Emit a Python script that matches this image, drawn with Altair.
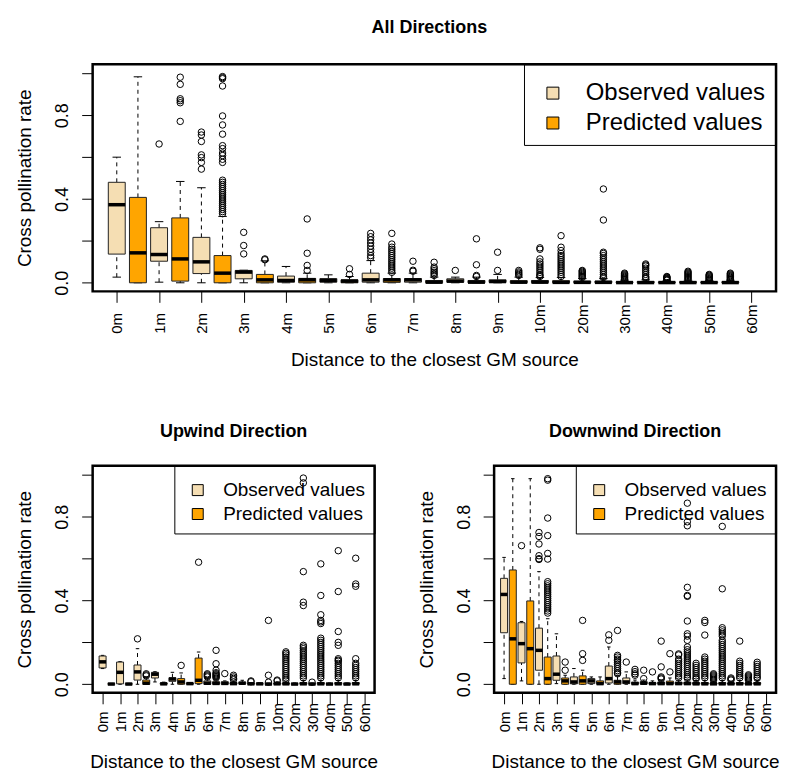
import json
import altair as alt
import pandas as pd

FONT = "Liberation Sans"

DIST_LABELS = ["0m", "1m", "2m", "3m", "4m", "5m", "6m", "7m", "8m", "9m",
               "10m", "20m", "30m", "40m", "50m", "60m"]
BOX_DIST = DIST_LABELS[:15]          # 60m has no data
SERIES = ["Observed values", "Predicted values"]
COLORS = ["#F5DEB3", "#FFA500"]
Y_TICKS = [0.0, 0.2, 0.4, 0.6, 0.8, 1.0]
Y_LABELLED = [0.0, 0.4, 0.8]

# ---- All directions: (lower whisker, Q1, median, Q3, upper whisker) ----
ALL_OBS = [
    (0.027, 0.137, 0.373, 0.480, 0.600), (0.003, 0.103, 0.135, 0.263, 0.292),
    (0.000, 0.044, 0.100, 0.217, 0.454), (0.000, 0.019, 0.051, 0.059, 0.060),
    (0.000, 0.003, 0.011, 0.032, 0.078), (0.000, 0.003, 0.011, 0.020, 0.038),
    (0.000, 0.003, 0.014, 0.046, 0.106), (0.000, 0.003, 0.014, 0.020, 0.046),
    (0.000, 0.003, 0.008, 0.019, 0.027), (0.000, 0.002, 0.006, 0.014, 0.040),
    (0.000, 0.001, 0.003, 0.011, 0.025), (0.000, 0.000, 0.002, 0.008, 0.020),
    (0.000, 0.000, 0.001, 0.005, 0.012), (0.000, 0.000, 0.001, 0.004, 0.010),
    (0.000, 0.000, 0.001, 0.004, 0.010)]
ALL_PRED = [
    (0.000, 0.000, 0.143, 0.408, 0.984), (0.000, 0.008, 0.114, 0.310, 0.484),
    (0.000, 0.000, 0.046, 0.130, 0.317), (0.000, 0.000, 0.014, 0.040, 0.105),
    (0.000, 0.000, 0.014, 0.021, 0.046), (0.000, 0.000, 0.008, 0.014, 0.030),
    (0.000, 0.002, 0.014, 0.020, 0.046), (0.000, 0.000, 0.003, 0.011, 0.027),
    (0.000, 0.000, 0.003, 0.011, 0.027), (0.000, 0.000, 0.003, 0.010, 0.027),
    (0.000, 0.000, 0.002, 0.010, 0.025), (0.000, 0.000, 0.002, 0.008, 0.020),
    (0.000, 0.000, 0.001, 0.006, 0.014), (0.000, 0.000, 0.001, 0.005, 0.012),
    (0.000, 0.000, 0.001, 0.005, 0.012)]
ALL_OBS_OUT = [
    [], [0.663], [0.72, 0.706, 0.675, 0.611, 0.598, 0.575, 0.543],
    [0.241, 0.178, 0.138], [], [],
    [0.236, 0.22, 0.205, 0.19, 0.175, 0.16, 0.145, 0.13, 0.12],
    [0.103, 0.06, 0.055], [0.059], [0.146, 0.059],
    [0.167, 0.16, 0.114, 0.1, 0.09, 0.08, 0.07, 0.06, 0.05, 0.04, 0.035, 0.03],
    [0.059, 0.055, 0.05, 0.045, 0.04, 0.035, 0.03, 0.025],
    [0.046, 0.042, 0.038, 0.034, 0.03, 0.026, 0.022, 0.018, 0.015],
    [0.03, 0.027, 0.024, 0.021, 0.018, 0.015, 0.012],
    [0.04, 0.036, 0.032, 0.028, 0.024, 0.02, 0.016, 0.013]]
ALL_PRED_OUT = [
    [], [0.982, 0.948, 0.879, 0.87, 0.86, 0.771],
    [0.985, 0.98, 0.975, 0.94, 0.797, 0.754, 0.71, 0.655, 0.641, 0.62, 0.608,
     0.59, 0.575, 0.49, 0.48, 0.47, 0.46, 0.45, 0.44, 0.43, 0.42, 0.41, 0.4,
     0.39, 0.38, 0.37, 0.36, 0.35, 0.34, 0.33],
    [0.114, 0.11], [0.305, 0.141, 0.083, 0.059], [0.067, 0.04],
    [0.236, 0.185, 0.17, 0.16, 0.15, 0.14, 0.13, 0.12, 0.11, 0.1, 0.09, 0.08,
     0.07, 0.06, 0.05],
    [0.098, 0.075, 0.067, 0.058, 0.05, 0.043, 0.035],
    [0.21, 0.086, 0.035, 0.03], [0.059, 0.052, 0.046, 0.04, 0.035],
    [0.225, 0.17, 0.154, 0.14, 0.13, 0.12, 0.11, 0.1, 0.09, 0.08, 0.07, 0.06,
     0.05, 0.04, 0.03],
    [0.448, 0.3, 0.146, 0.14, 0.13, 0.12, 0.11, 0.1, 0.09, 0.08, 0.07, 0.06,
     0.05, 0.04, 0.03, 0.025],
    [0.09, 0.085, 0.08, 0.07, 0.06, 0.05, 0.04, 0.03, 0.025, 0.02],
    [0.055, 0.05, 0.045, 0.04, 0.035, 0.03, 0.025, 0.02, 0.015],
    [0.046, 0.042, 0.038, 0.034, 0.03, 0.026, 0.022, 0.018, 0.015]]

# ---- Upwind direction ----
UP_OBS = [
    (0.075, 0.078, 0.107, 0.135, 0.138), (0.000, 0.002, 0.057, 0.106, 0.108),
    (0.000, 0.020, 0.059, 0.092, 0.170), (0.011, 0.030, 0.048, 0.057, 0.060),
    (0.000, 0.014, 0.025, 0.031, 0.057), (0.000, 0.000, 0.003, 0.006, 0.008),
    (0.000, 0.000, 0.005, 0.016, 0.030), (0.000, 0.000, 0.004, 0.012, 0.016),
    (0.000, 0.002, 0.005, 0.010, 0.019), (0.000, 0.000, 0.002, 0.004, 0.006),
    (0.000, 0.000, 0.002, 0.006, 0.012), (0.000, 0.000, 0.001, 0.003, 0.006),
    (0.000, 0.000, 0.001, 0.003, 0.006), (0.000, 0.000, 0.001, 0.003, 0.006),
    (0.000, 0.000, 0.001, 0.003, 0.006)]
UP_PRED = [
    (0.000, 0.000, 0.001, 0.003, 0.004), (0.000, 0.000, 0.001, 0.003, 0.004),
    (0.000, 0.000, 0.005, 0.020, 0.035), (0.000, 0.000, 0.002, 0.006, 0.010),
    (0.000, 0.000, 0.011, 0.027, 0.054), (0.000, 0.003, 0.019, 0.125, 0.154),
    (0.000, 0.000, 0.004, 0.012, 0.025), (0.000, 0.000, 0.003, 0.008, 0.015),
    (0.000, 0.000, 0.002, 0.005, 0.008), (0.000, 0.000, 0.001, 0.003, 0.005),
    (0.000, 0.000, 0.002, 0.006, 0.012), (0.000, 0.000, 0.002, 0.008, 0.018),
    (0.000, 0.000, 0.002, 0.008, 0.018), (0.000, 0.000, 0.002, 0.008, 0.018),
    (0.000, 0.000, 0.002, 0.008, 0.018)]
UP_OBS_OUT = [
    [], [], [0.217], [], [], [], [0.05, 0.045, 0.04, 0.035], [0.051], [], [],
    [0.02, 0.016], [], [0.01], [], []]
UP_PRED_OUT = [
    [], [], [0.05, 0.045, 0.04], [], [0.09], [0.583],
    [0.162, 0.098, 0.067, 0.055, 0.05, 0.045, 0.04, 0.035, 0.03],
    [0.043, 0.035, 0.028, 0.022], [0.016, 0.012], [0.305, 0.043, 0.01],
    [0.155, 0.148, 0.14, 0.13, 0.12, 0.11, 0.1, 0.09, 0.08, 0.07, 0.06, 0.05,
     0.04, 0.03, 0.02],
    [0.985, 0.962, 0.538, 0.392, 0.376, 0.186, 0.178, 0.17, 0.16, 0.15, 0.14,
     0.13, 0.12, 0.11, 0.1, 0.09, 0.08, 0.07, 0.06, 0.05, 0.04, 0.03],
    [0.575, 0.424, 0.332, 0.305, 0.298, 0.29, 0.22, 0.21, 0.2, 0.19, 0.18,
     0.17, 0.16, 0.15, 0.14, 0.13, 0.12, 0.11, 0.1, 0.09, 0.08, 0.07, 0.06,
     0.05, 0.04, 0.03],
    [0.638, 0.443, 0.252, 0.2, 0.186, 0.122, 0.115, 0.11, 0.1, 0.09, 0.08,
     0.07, 0.06, 0.05, 0.04, 0.03],
    [0.602, 0.479, 0.468, 0.122, 0.1, 0.09, 0.08, 0.07, 0.06, 0.05, 0.04, 0.03]]

# ---- Downwind direction ----
DOWN_OBS = [
    (0.027, 0.246, 0.429, 0.506, 0.606), (0.016, 0.102, 0.194, 0.294, 0.300),
    (0.000, 0.067, 0.162, 0.268, 0.538), (0.003, 0.019, 0.048, 0.135, 0.241),
    (0.000, 0.002, 0.011, 0.035, 0.075), (0.000, 0.003, 0.016, 0.027, 0.035),
    (0.000, 0.006, 0.027, 0.087, 0.178), (0.000, 0.003, 0.011, 0.030, 0.059),
    (0.000, 0.002, 0.005, 0.012, 0.020), (0.000, 0.000, 0.003, 0.010, 0.020),
    (0.000, 0.000, 0.003, 0.010, 0.020), (0.000, 0.000, 0.002, 0.008, 0.018),
    (0.000, 0.000, 0.002, 0.006, 0.014), (0.000, 0.000, 0.002, 0.006, 0.012),
    (0.000, 0.000, 0.002, 0.006, 0.014)]
DOWN_PRED = [
    (0.000, 0.000, 0.217, 0.546, 0.982), (0.000, 0.000, 0.170, 0.398, 0.982),
    (0.000, 0.000, 0.027, 0.130, 0.313), (0.000, 0.000, 0.016, 0.030, 0.043),
    (0.000, 0.000, 0.016, 0.040, 0.067), (0.000, 0.000, 0.003, 0.016, 0.035),
    (0.000, 0.000, 0.011, 0.019, 0.043), (0.000, 0.000, 0.003, 0.010, 0.020),
    (0.000, 0.000, 0.003, 0.008, 0.016), (0.000, 0.000, 0.003, 0.015, 0.030),
    (0.000, 0.000, 0.003, 0.010, 0.020), (0.000, 0.000, 0.002, 0.008, 0.018),
    (0.000, 0.000, 0.002, 0.008, 0.018), (0.000, 0.000, 0.002, 0.008, 0.018),
    (0.000, 0.000, 0.002, 0.008, 0.018)]
DOWN_OBS_OUT = [
    [], [0.662], [0.725, 0.706, 0.67, 0.614, 0.6, 0.596], [], [], [],
    [0.236, 0.21], [0.106], [0.067, 0.027], [0.206, 0.083, 0.035, 0.03, 0.025],
    [0.145, 0.14, 0.12, 0.11, 0.1, 0.09, 0.08, 0.07, 0.06, 0.05, 0.04, 0.03],
    [0.1, 0.09, 0.08, 0.07, 0.06, 0.05, 0.04, 0.03, 0.025],
    [0.05, 0.045, 0.04, 0.035, 0.03, 0.025, 0.02],
    [0.03, 0.025, 0.02],
    [0.045, 0.04, 0.035, 0.03, 0.025, 0.02]]
DOWN_PRED_OUT = [
    [], [],
    [0.982, 0.975, 0.794, 0.71, 0.625, 0.598, 0.49, 0.48, 0.47, 0.46, 0.45,
     0.44, 0.43, 0.42, 0.41, 0.4, 0.39, 0.38, 0.37, 0.36, 0.35, 0.34],
    [0.106, 0.067], [0.305, 0.146, 0.114], [],
    [0.257, 0.138, 0.13, 0.12, 0.114, 0.105, 0.095, 0.085, 0.075, 0.065,
     0.055, 0.05],
    [0.071, 0.06, 0.05, 0.043], [0.059], [0.146, 0.059],
    [0.865, 0.776, 0.757, 0.463, 0.424, 0.42, 0.302, 0.241, 0.23, 0.21, 0.178,
     0.165, 0.155, 0.145, 0.135, 0.125, 0.115, 0.105, 0.095, 0.085, 0.075,
     0.065, 0.055, 0.045, 0.035, 0.028],
    [0.305, 0.295, 0.235, 0.13, 0.12, 0.11, 0.1, 0.09, 0.08, 0.07, 0.06, 0.05,
     0.04, 0.03],
    [0.754, 0.456, 0.27, 0.26, 0.25, 0.24, 0.23, 0.21, 0.2, 0.19, 0.18, 0.17,
     0.16, 0.15, 0.14, 0.13, 0.12, 0.11, 0.1, 0.09, 0.08, 0.07, 0.06, 0.05,
     0.04, 0.03],
    [0.206, 0.11, 0.1, 0.09, 0.08, 0.07, 0.06, 0.05, 0.04, 0.03],
    [0.105, 0.095, 0.085, 0.075, 0.065, 0.055, 0.045, 0.035, 0.028]]


def build_frames(obs_stats, pred_stats, obs_out, pred_out):
    rows, outs = [], []
    for i in range(len(BOX_DIST)):
        for j, (stats, out) in enumerate(((obs_stats, obs_out), (pred_stats, pred_out))):
            pos = 2 * i + 1 + j
            lo, q1, med, q3, hi = stats[i]
            rows.append(dict(pos=pos, series=SERIES[j], lo=lo, q1=q1,
                             med=med, q3=q3, hi=hi))
            for v in out[i]:
                outs.append(dict(pos=pos, series=SERIES[j], value=v))
    return pd.DataFrame(rows), pd.DataFrame(outs)


TICK_POS = [2 * i + 1 for i in range(len(DIST_LABELS))]
X_LABEL_EXPR = json.dumps(DIST_LABELS) + "[(datum.value - 1) / 2]"
Y_LABEL_EXPR = ("(" + " || ".join("datum.value == %s" % v for v in Y_LABELLED)
                + ") ? format(datum.value, '.1f') : ''")


def panel(title, frames, width, height, x_lab_pad, x_title_pad, leg, title_offset, title_dx):
    stats_df, out_df = frames
    xs = alt.Scale(domain=[-0.14, 32.16], nice=False, zero=False)
    ys = alt.Scale(domain=[-0.041, 1.044], nice=False, zero=False)
    xaxis = alt.Axis(values=TICK_POS, labelExpr=X_LABEL_EXPR,
                     title="Distance to the closest GM source",
                     domain=False, grid=False, ticks=True, tickSize=11,
                     tickColor="black", tickWidth=1,
                     labelAngle=270, labelAlign="left", labelBaseline="middle",
                     labelPadding=x_lab_pad, labelFontSize=15, labelFont=FONT,
                     labelColor="black", labelOverlap=False, labelFlush=False,
                     titleFont=FONT, titleFontSize=19, titleFontWeight="normal",
                     titleColor="black", titlePadding=x_title_pad)
    yaxis = alt.Axis(values=Y_TICKS, labelExpr=Y_LABEL_EXPR,
                     title="Cross pollination rate",
                     domain=False, grid=False, ticks=True, tickSize=11,
                     tickColor="black", tickWidth=1,
                     labelAngle=270, labelAlign="center", labelBaseline="alphabetic",
                     labelPadding=14, labelFontSize=18, labelFont=FONT,
                     labelColor="black", labelOverlap=False, labelFlush=False,
                     titleFont=FONT, titleFontSize=19, titleFontWeight="normal",
                     titleColor="black", titlePadding=19)

    base = alt.Chart(stats_df).transform_calculate(
        xl="datum.pos - 0.4", xr="datum.pos + 0.4",
        sl="datum.pos - 0.2", sr="datum.pos + 0.2")

    def X(f):
        return alt.X(f, type="quantitative", scale=xs, axis=xaxis)

    def Y(f):
        return alt.Y(f, type="quantitative", scale=ys, axis=yaxis)

    whisk_lo = base.mark_rule(color="black", strokeWidth=1, strokeDash=[4, 4]).encode(
        x=X("pos"), y=Y("lo"), y2="q1:Q")
    whisk_hi = base.mark_rule(color="black", strokeWidth=1, strokeDash=[4, 4]).encode(
        x=X("pos"), y=Y("q3"), y2="hi:Q")
    staple_lo = base.mark_rule(color="black", strokeWidth=1).encode(
        x=X("sl"), x2="sr:Q", y=Y("lo"))
    staple_hi = base.mark_rule(color="black", strokeWidth=1).encode(
        x=X("sl"), x2="sr:Q", y=Y("hi"))
    boxes = base.mark_rect(stroke="#222222", strokeWidth=1, opacity=1).encode(
        x=X("xl"), x2="xr:Q", y=Y("q1"), y2="q3:Q",
        fill=alt.Fill("series:N", scale=alt.Scale(domain=SERIES, range=COLORS),
                      legend=alt.Legend(title=" ", titleFontSize=1,
                                        titlePadding=leg["tpad"],
                                        orient="top-right", offset=0,
                                        padding=leg["pad"], strokeColor="black",
                                        labelFont=FONT, labelFontSize=leg["font"],
                                        labelColor="black", labelLimit=400,
                                        labelOffset=leg["loff"], rowPadding=leg["rpad"],
                                        symbolOffset=leg["soff"],
                                        symbolType="square", symbolSize=leg["sym"],
                                        symbolStrokeColor="black", symbolStrokeWidth=1,
                                        symbolOpacity=1)))
    medians = base.mark_rule(color="black", strokeWidth=3.5).encode(
        x=X("xl"), x2="xr:Q", y=Y("med"))
    points = alt.Chart(out_df).mark_point(shape="circle", filled=False, color="black",
                                          strokeWidth=1, size=42, opacity=1).encode(
        x=X("pos"), y=Y("value"))

    return alt.layer(whisk_lo, whisk_hi, staple_lo, staple_hi, boxes, medians, points).properties(
        width=width, height=height,
        title=alt.TitleParams(title, font=FONT, fontSize=18, fontWeight="bold",
                              color="black", anchor="middle", baseline="alphabetic",
                              offset=title_offset, dx=title_dx))


LEG_TOP = dict(pad=10, font=24, loff=21, rpad=6, sym=144, soff=7, tpad=6)
LEG_BOT = dict(pad=9, font=19, loff=16, rpad=4, sym=121, soff=5, tpad=5)

top = panel("All Directions", build_frames(ALL_OBS, ALL_PRED, ALL_OBS_OUT, ALL_PRED_OUT),
            686, 228, 31, 17, LEG_TOP, 13, -5)
bl = panel("Upwind Direction", build_frames(UP_OBS, UP_PRED, UP_OBS_OUT, UP_PRED_OUT),
           283, 228, 28, 21, LEG_BOT, 10, 0)
br = panel("Downwind Direction", build_frames(DOWN_OBS, DOWN_PRED, DOWN_OBS_OUT, DOWN_PRED_OUT),
           283, 228, 28, 21, LEG_BOT, 10, 0)

bottom = alt.hconcat(bl, br, spacing=120, bounds="flush").resolve_scale(
    fill="independent").resolve_legend(fill="independent")
chart = alt.vconcat(top, bottom, spacing=175, bounds="flush").resolve_scale(
    fill="independent").resolve_legend(fill="independent").configure_view(
    stroke="black", strokeWidth=2.5).properties(
    background="white", padding={"left": 14, "top": 16, "right": 5, "bottom": 2})

chart.save("out.html", embed_options={"renderer": "svg", "actions": False})
